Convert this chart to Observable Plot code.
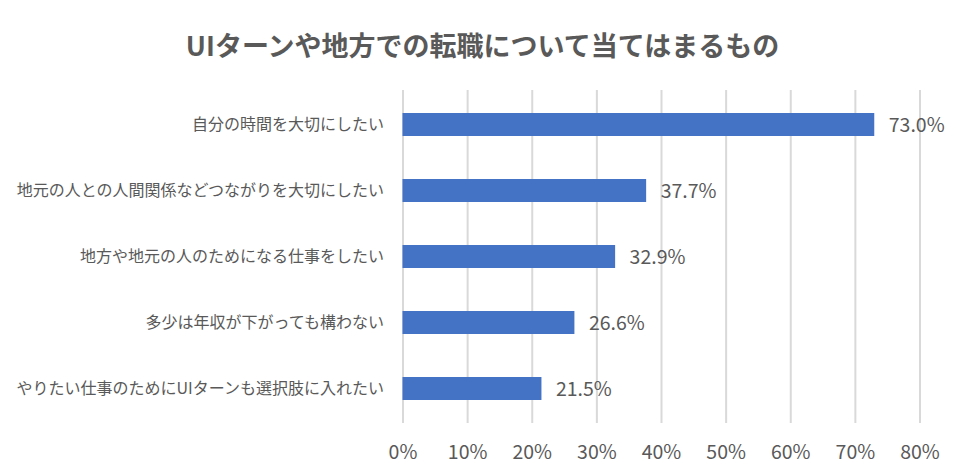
<!DOCTYPE html>
<html>
<head>
<meta charset="utf-8">
<script src="https://cdn.jsdelivr.net/npm/d3@7"></script>
<script src="https://cdn.jsdelivr.net/npm/@observablehq/plot@0.6"></script>
<style>
  html, body { margin: 0; padding: 0; background: #fff; }
  #title { width: 965px; height: 80px; box-sizing: border-box; padding-top: 26px; text-align: center;
    font-family: "Noto Sans CJK JP", sans-serif; font-weight: 700; font-size: 27px; line-height: 38px; color: #595959; }
  #chart svg { display: block; }
</style>
</head>
<body>
<div id="title">UIターンや地方での転職について当てはまるもの</div>
<div id="chart"></div>
<script>
const categories = [
  "自分の時間を大切にしたい",
  "地元の人との人間関係などつながりを大切にしたい",
  "地方や地元の人のためになる仕事をしたい",
  "多少は年収が下がっても構わない",
  "やりたい仕事のためにUIターンも選択肢に入れたい"
];
const values = [73.0, 37.7, 32.9, 26.6, 21.5];
const xTicks = [0, 10, 20, 30, 40, 50, 60, 70, 80];

const data = categories.map((c, i) => ({category: c, value: values[i]}));
const font = '"Noto Sans CJK JP", sans-serif';

const chart = Plot.plot({
  width: 965,
  height: 395,
  marginTop: 10,
  marginBottom: 52,
  marginLeft: 402.5,
  marginRight: 45.5,
  style: {fontFamily: font, color: "#595959", background: "#fff"},
  x: {domain: [0, 80], label: null},
  y: {domain: categories, label: null, paddingInner: 0.657, paddingOuter: 0.314},
  marks: [
    Plot.gridX(xTicks, {stroke: "#d9d9d9", strokeOpacity: 1, strokeWidth: 2}),
    Plot.barX(data, {x: "value", y: "category", fill: "#4472C4"}),
    Plot.text(data, {x: "value", y: "category", text: d => d.value.toFixed(1) + "%",
      textAnchor: "start", dx: 14, dy: 1, fontSize: 19.5, fill: "#595959"}),
    Plot.axisX(xTicks, {tickSize: 0, tickPadding: 22, tickFormat: d => d + "%", fontSize: 19.5, fill: "#595959", label: null}),
    Plot.axisY({tickSize: 0, tickPadding: 19, fontSize: 16, fill: "#595959", label: null})
  ]
});
document.getElementById("chart").appendChild(chart);
</script>
</body>
</html>
